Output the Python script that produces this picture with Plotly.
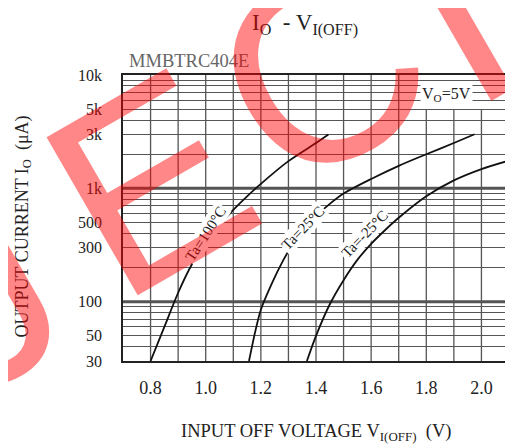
import math
import plotly.graph_objects as go

# ---------------- data ----------------
v_100 = [0.80, 0.85, 0.90, 0.95, 1.00, 1.05, 1.10, 1.15, 1.20, 1.30, 1.40, 1.445]
i_100 = [30, 60, 120, 214, 331, 473, 646, 851, 1096, 1738, 2512, 2985]

v_25 = [1.157, 1.18, 1.20, 1.24, 1.28, 1.32, 1.36, 1.40, 1.45, 1.50, 1.60, 1.70, 1.80, 1.90, 1.975]
i_25 = [30, 55, 85, 145, 229, 335, 450, 570, 730, 900, 1210, 1580, 2000, 2512, 3000]

v_m25 = [1.367, 1.40, 1.45, 1.50, 1.55, 1.60, 1.65, 1.70, 1.80, 1.90, 2.00, 2.10]
i_m25 = [30, 50, 95, 155, 234, 324, 427, 550, 851, 1175, 1479, 1758]

series_labels = ["Ta=100°C", "Ta=25°C", "Ta=-25°C"]

x_tick_vals = [0.8, 1.0, 1.2, 1.4, 1.6, 1.8, 2.0]
x_tick_text = ["0.8", "1.0", "1.2", "1.4", "1.6", "1.8", "2.0"]
y_label_vals = [30, 50, 100, 300, 500, 1000, 3000, 5000, 10000]
y_label_text = ["30", "50", "100", "300", "500", "1k", "3k", "5k", "10k"]

SERIF = "Liberation Serif"
SANS = "Liberation Sans"
INK = "#222"
GRID = "#555"

# y gridlines at every 1..9 multiple
y_grid = [m * 10 ** e for e in (1, 2, 3) for m in range(1, 10) if 30 <= m * 10 ** e <= 10000] + [10000]
y_grid_text = [y_label_text[y_label_vals.index(v)] if v in y_label_vals else "" for v in y_grid]

ylo, yhi = math.log10(30), 4.0


def yfrac(v):
    return (math.log10(v) - ylo) / (yhi - ylo)


fig = go.Figure()
for xs, ys in [(v_100, i_100), (v_25, i_25), (v_m25, i_m25)]:
    fig.add_trace(go.Scatter(x=xs, y=ys, mode="lines",
                             line=dict(color="#111", width=1.8, shape="spline", smoothing=0.8),
                             hoverinfo="skip", showlegend=False))

shapes = []
for k in range(8, 21):
    xv = k / 10
    top = yfrac(5000) if xv >= 1.75 else 1
    shapes.append(dict(type="line", xref="x", yref="y domain", x0=xv, x1=xv, y0=0, y1=top,
                       line=dict(color=GRID, width=1.3), layer="below"))
for v in (100, 1000):
    shapes.append(dict(type="line", xref="x domain", yref="y domain", x0=0, x1=1,
                       y0=yfrac(v), y1=yfrac(v), line=dict(color=GRID, width=3), layer="below"))

# page pixel -> paper helpers for text placement (plot area on the page)
L, R, T, B = 123, 511, 75, 361


def px(x):
    return (x - L) / (R - L)


def py(y):
    return (B - y) / (B - T)


def text_ann(text, x, y, size, color=INK, family=SERIF, **kw):
    d = dict(text=text, x=px(x), y=py(y), xref="paper", yref="paper", xanchor="center",
             yanchor="middle", showarrow=False, font=dict(size=size, color=color, family=family))
    d.update(kw)
    return d


ann = []
ann.append(text_ann("I<sub>O</sub>  - V<sub>I(OFF)</sub>", 306, 24, 23))
ann.append(text_ann("MMBTRC404E", 189, 61, 18.5, color="#666"))
ann.append(text_ann("V<sub>O</sub>=5V", 448, 94, 16, bgcolor="white"))
ann.append(text_ann("INPUT OFF VOLTAGE V<sub>I(OFF)</sub>  (V)", 317, 432, 18.5))
ann.append(text_ann("OUTPUT CURRENT I<sub>O</sub>  (μA)", 22, 227, 18, textangle=-90))

label_pos = [(206, 234, -57), (304, 228, -46), (366, 234, -46)]
for txt, (lx, ly, ang) in zip(series_labels, label_pos):
    ann.append(text_ann(txt, lx, ly, 15, textangle=ang, bgcolor="white", borderpad=1))

# red watermark letters
WM = "rgba(255,0,0,0.47)"
for ch, (wx, wy) in zip(["J", "E", "C", "T"], [(-20, 290), (150, 182), (322, 70), (458, 15)]):
    ann.append(text_ann(ch, wx, wy, 265, color=WM, family=SANS, textangle=-30))

# the page body has an 8px margin: shrink the figure so the plot lands at the reference pixels
OFF = 8
W, H = 513 - OFF, 448 - OFF
fig.update_layout(width=W, height=H,
                  margin=dict(l=L - OFF, r=W - (R - OFF), t=T - OFF, b=H - (B - OFF)),
                  plot_bgcolor="white", paper_bgcolor="white",
                  font=dict(family=SERIF, color=INK, size=15),
                  shapes=shapes, annotations=ann, showlegend=False)
fig.update_xaxes(range=[0.7, 2.1], tickvals=x_tick_vals, ticktext=x_tick_text, showgrid=False,
                 zeroline=False, showline=True, mirror=True, linecolor=INK, linewidth=1.5,
                 ticks="", ticklabelstandoff=10, tickfont=dict(size=18, color=INK, family=SERIF))
fig.update_yaxes(type="log", range=[ylo, yhi], tickvals=y_grid, ticktext=y_grid_text, showgrid=True,
                 gridcolor=GRID, gridwidth=1, zeroline=False, showline=True, mirror=True,
                 linecolor=INK, linewidth=1.5, ticks="", ticklabelstandoff=16,
                 tickfont=dict(size=16, color=INK, family=SERIF))

fig.write_html("out.html")
